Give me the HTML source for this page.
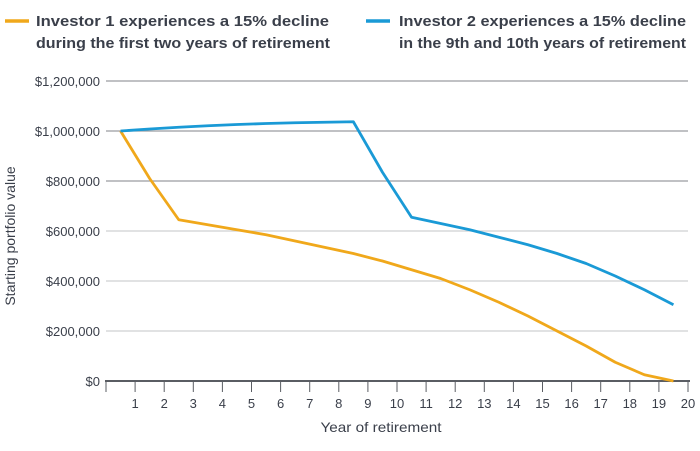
<!DOCTYPE html>
<html><head><meta charset="utf-8"><style>
body{margin:0;background:#fff;font-family:"Liberation Sans",sans-serif;}
svg text{font-family:"Liberation Sans",sans-serif;}
</style></head><body>
<svg width="700" height="446" viewBox="0 0 700 446">
<g>
 <g>
  <line x1="5" y1="21" x2="29" y2="21" stroke="#f0a81b" stroke-width="3.5"/>
  <text x="36" y="26" font-size="15" font-weight="bold" fill="#3a3f4a" textLength="293" lengthAdjust="spacingAndGlyphs">Investor 1 experiences a 15% decline</text>
  <text x="36" y="48" font-size="15" font-weight="bold" fill="#3a3f4a" textLength="294" lengthAdjust="spacingAndGlyphs">during the first two years of retirement</text>
 </g>
 <g>
  <line x1="366" y1="21" x2="390" y2="21" stroke="#1a9ad6" stroke-width="3.5"/>
  <text x="399" y="26" font-size="15" font-weight="bold" fill="#3a3f4a" textLength="287" lengthAdjust="spacingAndGlyphs">Investor 2 experiences a 15% decline</text>
  <text x="399" y="48" font-size="15" font-weight="bold" fill="#3a3f4a" textLength="287" lengthAdjust="spacingAndGlyphs">in the 9th and 10th years of retirement</text>
 </g>
</g>
<g id="grid"></g>
<g id="yticks"></g>
<g id="xaxis"></g>
<g id="series"></g>
<text transform="translate(15,236) rotate(-90)" text-anchor="middle" font-size="14" fill="#3a3f4a">Starting portfolio value</text>
<text x="381" y="432" text-anchor="middle" font-size="14" fill="#3a3f4a" textLength="121" lengthAdjust="spacingAndGlyphs">Year of retirement</text>
</svg>
<script>
const yTicks=[0,200000,400000,600000,800000,1000000,1200000];
const yTickLabels=["$0","$200,000","$400,000","$600,000","$800,000","$1,000,000","$1,200,000"];
const xTickLabels=[1,2,3,4,5,6,7,8,9,10,11,12,13,14,15,16,17,18,19,20];
const years=[0.5,1.5,2.5,3.5,4.5,5.5,6.5,7.5,8.5,9.5,10.5,11.5,12.5,13.5,14.5,15.5,16.5,17.5,18.5,19.5];
const investor1=[1000000,810000,645000,625000,605000,585000,560000,535000,510000,480000,445000,410000,365000,315000,260000,200000,140000,75000,25000,0];
const investor2=[1000000,1008000,1015000,1021000,1026000,1030000,1033000,1035000,1037000,835000,655000,630000,605000,575000,545000,510000,470000,420000,365000,305000];
const NS="http://www.w3.org/2000/svg";
const X0=106,XS=29.1,Y0=381,YS=300/1200000;
const xs=v=>X0+v*XS, ys=v=>Y0-v*YS;
function mk(tag,attrs,parent){const e=document.createElementNS(NS,tag);for(const k in attrs)e.setAttribute(k,attrs[k]);parent.appendChild(e);return e;}
const grid=document.getElementById('grid'),yt=document.getElementById('yticks'),xa=document.getElementById('xaxis'),se=document.getElementById('series');
yTicks.forEach((v,i)=>{
 if(v>0){const l=mk('line',{x1:106,x2:688,y1:ys(v),y2:ys(v),stroke:i<4?'#cfd0d2':'#9a9ca0','stroke-width':1.2},grid);
 
 }
 const t=mk('text',{x:100,y:ys(v)+5,'text-anchor':'end','font-size':13,fill:'#3a3f4a'},yt);
 t.textContent=yTickLabels[i];
 
 
});
const ax=mk('line',{x1:105,x2:690,y1:Y0,y2:Y0,stroke:'#5a5d63','stroke-width':2},xa);


mk('line',{x1:xs(0),x2:xs(0),y1:Y0,y2:Y0+11,stroke:'#5a5d63','stroke-width':1},xa);
xTickLabels.forEach(v=>{
 mk('line',{x1:xs(v),x2:xs(v),y1:Y0,y2:Y0+11,stroke:'#5a5d63','stroke-width':1},xa);
 const t=mk('text',{x:xs(v),y:Y0+27,'text-anchor':'middle','font-size':13,fill:'#3a3f4a'},xa);
 t.textContent=v;
 
 
});
function line(data,color,name){
 const p=mk('polyline',{points:data.map((v,i)=>xs(years[i])+','+ys(v)).join(' '),fill:'none',stroke:color,'stroke-width':2.8,'stroke-linejoin':'round'},se);
 
 
}
line(investor1,'#f0a81b','investor-1-line');
line(investor2,'#1a9ad6','investor-2-line');
</script>
</body></html>
